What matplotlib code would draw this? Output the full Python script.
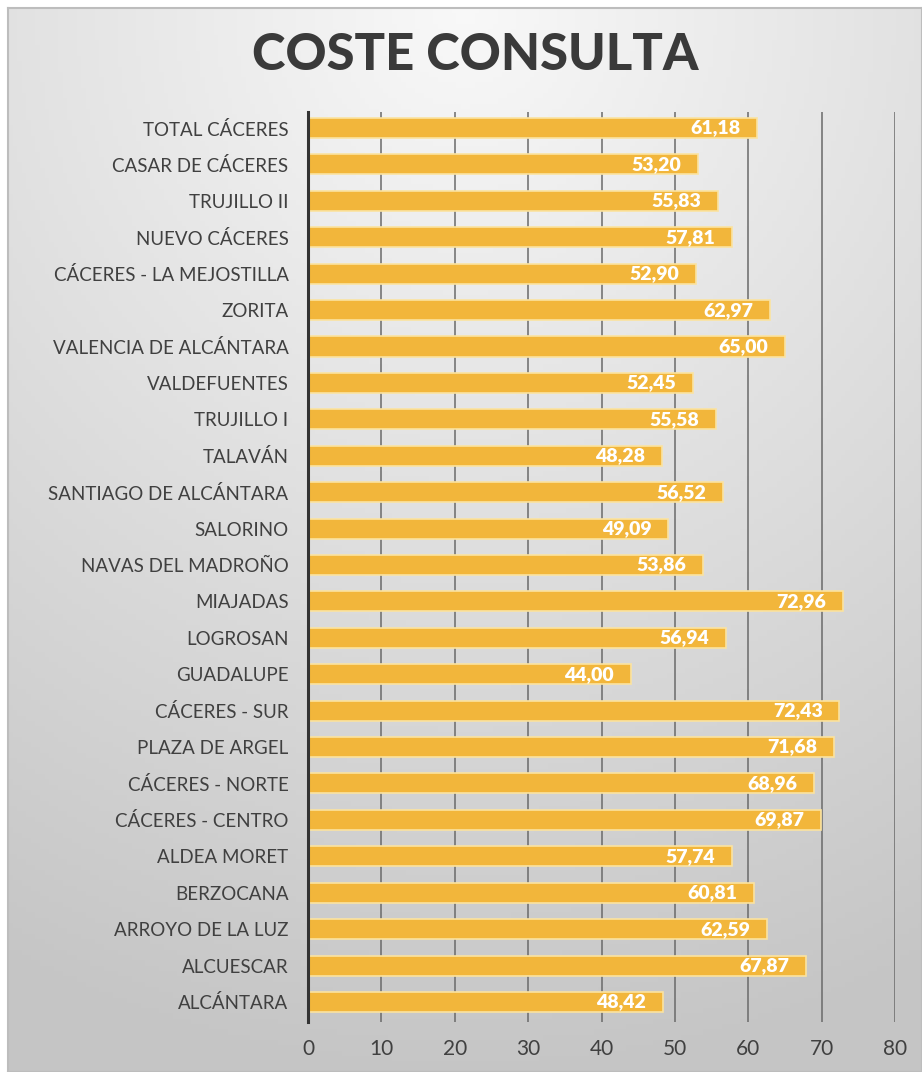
import numpy as np
import matplotlib
matplotlib.use("Agg")
import matplotlib.pyplot as plt

# data, top to bottom as in the chart
categories = ["TOTAL CÁCERES", "CASAR DE CÁCERES", "TRUJILLO II", "NUEVO CÁCERES",
              "CÁCERES - LA MEJOSTILLA", "ZORITA", "VALENCIA DE ALCÁNTARA", "VALDEFUENTES",
              "TRUJILLO I", "TALAVÁN", "SANTIAGO DE ALCÁNTARA", "SALORINO",
              "NAVAS DEL MADROÑO", "MIAJADAS", "LOGROSAN", "GUADALUPE", "CÁCERES - SUR",
              "PLAZA DE ARGEL", "CÁCERES - NORTE", "CÁCERES - CENTRO", "ALDEA MORET",
              "BERZOCANA", "ARROYO DE LA LUZ", "ALCUESCAR", "ALCÁNTARA"]
values = [61.18, 53.20, 55.83, 57.81, 52.90, 62.97, 65.00, 52.45, 55.58, 48.28,
          56.52, 49.09, 53.86, 72.96, 56.94, 44.00, 72.43, 71.68, 68.96, 69.87,
          57.74, 60.81, 62.59, 67.87, 48.42]
xticks = [0, 10, 20, 30, 40, 50, 60, 70, 80]

W, H = 922, 1072
fig = plt.figure(figsize=(W / 100, H / 100), dpi=100)
fig.patch.set_facecolor("white")

# background panel with gradient
bg = fig.add_axes([8 / W, 0, 1 - 8 / W, 1 - 8 / H])
yy, xx = np.mgrid[0:1:200j, 0:1:200j]
d = np.sqrt(((xx - 0.5) * 0.9) ** 2 + (yy * 1.0) ** 2)
shade = 0.975 - 0.2 * np.clip(d, 0, 1)
bg.imshow(np.dstack([shade] * 3), extent=[0, 1, 0, 1], aspect="auto", origin="upper")
bg.set_xticks([])
bg.set_yticks([])
for s in bg.spines.values():
    s.set_color("#bdbdbd")
    s.set_linewidth(1.5)

ax = fig.add_axes([308 / W, 1 - 1022 / H, 587 / W, (1022 - 112) / H])
ax.patch.set_alpha(0)
pos = np.arange(len(categories))[::-1]
ax.barh(pos, values, height=0.55, color="#F2B63B", edgecolor="#FBE3A0", linewidth=1.2, zorder=2)
for p, v in zip(pos, values):
    ax.text(v - 2.3, p, f"{v:.2f}".replace(".", ","), ha="right", va="center",
            color="white", fontsize=14, fontweight="heavy", family="Lato", zorder=3)

ax.set_xlim(0, 80)
ax.set_ylim(-0.55, 24.44)
ax.set_yticks(pos)
ax.set_yticklabels(categories, family="Lato", fontsize=13.5, color="#404040")
ax.set_xticks(xticks)
ax.set_xticklabels([str(t) for t in xticks], family="Lato", fontsize=15, color="#404040")
ax.tick_params(axis="y", length=0, pad=14)
ax.tick_params(axis="x", length=0, pad=12)
ax.grid(axis="x", color="#6a6a6a", linewidth=1.1, zorder=1)
ax.set_axisbelow(True)
for s in ["top", "right", "bottom"]:
    ax.spines[s].set_visible(False)
ax.spines["left"].set_color("#333333")
ax.spines["left"].set_linewidth(2.2)
ax.spines["left"].set_zorder(4)

fig.text(475 / W, 1 - 55 / H, "COSTE CONSULTA", ha="center", va="center",
         family="Lato", fontweight="black", fontsize=36.5, color="#3a3a3a")

fig.savefig("out.png", dpi=100)
